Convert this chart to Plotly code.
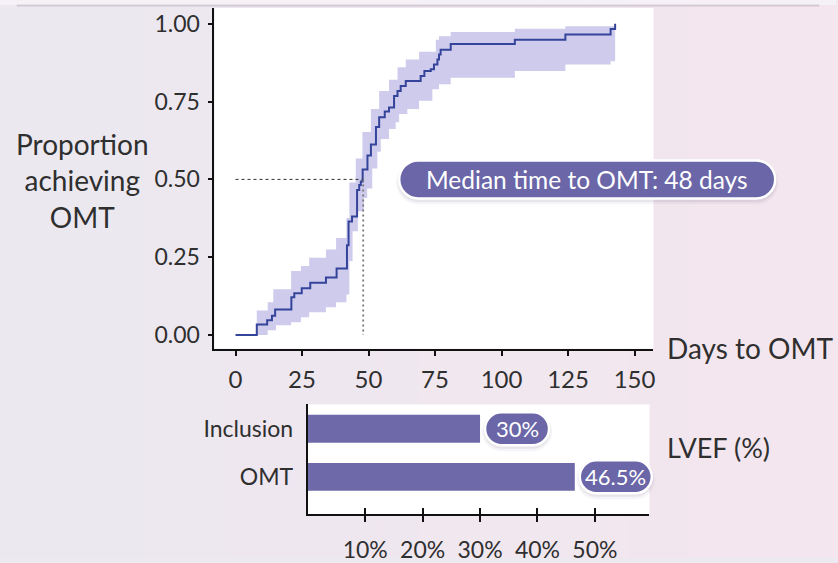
import plotly.graph_objects as go

# ---------------- data ----------------
km_days = [0, 8.0, 11.9, 13.7, 14.9, 21.0, 22.1, 24.9, 28.1, 34.0, 38.0, 41.9, 42.5, 43.8,
           45.7, 46.5, 47.1, 47.8, 49.6, 50.9, 52.8, 54.0, 56.1, 57.7, 59.6, 60.9, 62.1,
           64.0, 69.6, 71.0, 73.4, 74.6, 75.9, 76.5, 77.1, 80.9, 105.0, 124.0, 141.0, 142.7]
km_prop = [0, 0.034, 0.047, 0.062, 0.082, 0.121, 0.134, 0.150, 0.168, 0.185, 0.214, 0.288,
           0.365, 0.381, 0.466, 0.482, 0.493, 0.532, 0.577, 0.612, 0.668, 0.700, 0.718,
           0.731, 0.768, 0.784, 0.800, 0.816, 0.832, 0.848, 0.854, 0.869, 0.885, 0.901,
           0.917, 0.935, 0.949, 0.966, 0.983, 1.0]

band_days = [8, 12.1, 14.2, 15.2, 20.9, 24.6, 27.7, 34.0, 37.8, 41.7,
             42.8, 44.0, 45.2, 46.0, 47.7, 48.3, 49.5, 50.9, 51.4, 53.3,
             54.0, 54.6, 57.7, 60.2, 60.9, 61.5, 64.0, 64.6, 69.0, 74.0,
             75.3, 76.5, 80.9, 105.0, 124.0, 141.0, 142.7]
band_lower = [0.0, 0.015, 0.015, 0.031, 0.041, 0.057, 0.073, 0.089, 0.105, 0.13,
              0.238, 0.333, 0.333, 0.398, 0.398, 0.44, 0.471, 0.471, 0.535, 0.589,
              0.589, 0.63, 0.662, 0.684, 0.684, 0.71, 0.71, 0.726, 0.753, 0.79,
              0.79, 0.806, 0.827, 0.848, 0.869, 0.88, 0.88]
band_upper = [0.079, 0.105, 0.147, 0.147, 0.206, 0.222, 0.248, 0.275, 0.312, 0.376,
              0.49, 0.49, 0.567, 0.567, 0.652, 0.652, 0.652, 0.726, 0.726, 0.726,
              0.784, 0.784, 0.82, 0.82, 0.86, 0.86, 0.885, 0.885, 0.91, 0.91,
              0.949, 0.96, 0.974, 0.984, 0.992, 0.992, 0.992]

median_days = 48
median_prop = 0.5
median_text = "Median time to OMT: 48 days"

km_xticks = [0, 25, 50, 75, 100, 125, 150]
km_yticks = [0.0, 0.25, 0.50, 0.75, 1.00]
km_ytick_labels = ["0.00", "0.25", "0.50", "0.75", "1.00"]

lvef_cats = ["Inclusion", "OMT"]
lvef_vals = [30, 46.5]
lvef_labels = ["30%", "46.5%"]
lvef_ticks = [10, 20, 30, 40, 50]
lvef_tick_labels = ["10%", "20%", "30%", "40%", "50%"]

# ---------------- style ----------------
W, H = 838, 563
FONT = "Lato"
TXT = "#2f2f2f"
BAR = "#6e6aa9"
PILL = "#6a66a7"
LINE = "#34449a"
BANDC = "rgba(165,160,222,0.55)"


def px_x(p):
    return p / W


def px_y(p):
    return 1 - p / H


km_dom_x = [px_x(215), px_x(655)]
km_dom_y = [px_y(352), px_y(8)]
bar_dom_x = [px_x(308.5), px_x(651)]
bar_dom_y = [px_y(519), px_y(408)]
km_rng_x = [-7.9, 157.1]
km_rng_y = [-0.0446, 1.051]
bar_rng_x = [0, 59.5]
bar_rng_y = [1.78, -0.505]


def to_paper(v, dom, rng):
    return dom[0] + (v - rng[0]) / (rng[1] - rng[0]) * (dom[1] - dom[0])


fig = go.Figure()

# confidence band
fig.add_trace(go.Scatter(x=band_days, y=band_lower, mode="lines", line=dict(width=0, shape="hv"),
                         hoverinfo="skip", showlegend=False, xaxis="x", yaxis="y"))
fig.add_trace(go.Scatter(x=band_days, y=band_upper, mode="lines", line=dict(width=0, shape="hv"),
                         fill="tonexty", fillcolor=BANDC, hoverinfo="skip", showlegend=False,
                         xaxis="x", yaxis="y"))
# KM curve
fig.add_trace(go.Scatter(x=km_days, y=km_prop, mode="lines", line=dict(color=LINE, width=2, shape="hv"),
                         showlegend=False, xaxis="x", yaxis="y"))

# bars
fig.add_trace(go.Bar(y=lvef_cats, x=lvef_vals, orientation="h", marker=dict(color=BAR, line=dict(width=0)),
                     width=0.58, showlegend=False, xaxis="x2", yaxis="y2"))

shapes = []
# background gradient strips
n = 40
c0 = (235, 232, 240)
c1 = (244, 230, 238)
for i in range(n):
    t = i / (n - 1)
    col = tuple(round(c0[k] + (c1[k] - c0[k]) * t) for k in range(3))
    shapes.append(dict(type="rect", xref="paper", yref="paper", x0=i / n, x1=(i + 1) / n + 0.002,
                       y0=0, y1=1, fillcolor="rgb(%d,%d,%d)" % col, line=dict(width=0), layer="below"))
# top card edge
shapes.append(dict(type="rect", xref="paper", yref="paper", x0=0, x1=1, y0=px_y(5), y1=1,
                   fillcolor="#f6f1f6", line=dict(width=0), layer="below"))
shapes.append(dict(type="line", xref="paper", yref="paper", x0=0.02, x1=0.98, y0=px_y(5.5), y1=px_y(5.5),
                   line=dict(color="rgba(120,110,130,0.25)", width=2), layer="below"))
# white plot panels
shapes.append(dict(type="rect", xref="paper", yref="paper", x0=km_dom_x[0], x1=km_dom_x[1],
                   y0=km_dom_y[0], y1=km_dom_y[1], fillcolor="white", line=dict(width=0), layer="below"))
shapes.append(dict(type="rect", xref="paper", yref="paper", x0=bar_dom_x[0], x1=bar_dom_x[1],
                   y0=bar_dom_y[0], y1=bar_dom_y[1], fillcolor="white", line=dict(width=0), layer="below"))

# median guide lines
shapes.append(dict(type="line", xref="x", yref="y", x0=0, x1=median_days, y0=median_prop, y1=median_prop,
                   line=dict(color="#333", width=1, dash="3px,3px")))
shapes.append(dict(type="line", xref="x", yref="y", x0=median_days, x1=median_days, y0=median_prop, y1=0,
                   line=dict(color="#777", width=1.8, dash="2px,3px")))


def pill_path(x0, x1, h):
    r = h / 2.0
    k = 0.5523 * r
    y0, y1 = -r, r
    return ("M {a},{y1} L {b},{y1} C {c},{y1} {x1},{m1} {x1},0 C {x1},{m2} {c},{y0} {b},{y0} "
            "L {a},{y0} C {d},{y0} {x0},{m2} {x0},0 C {x0},{m1} {d},{y1} {a},{y1} Z").format(
        a=x0 + r, b=x1 - r, c=x1 - r + k, d=x0 + r - k, x0=x0, x1=x1, y0=y0, y1=y1,
        m1=k, m2=-k)


def add_pill(xa, ya, x0, x1, h):
    # soft shadow
    for grow, dy, a in [(6, -3, 0.06), (3, -2, 0.08)]:
        shapes.append(dict(type="path", xref="paper", yref="paper", xsizemode="pixel", ysizemode="pixel",
                           xanchor=xa, yanchor=ya + dy / H,
                           path=pill_path(x0 - grow / 2, x1 + grow / 2, h + grow),
                           fillcolor="rgba(80,70,100,%.2f)" % a, line=dict(width=0)))
    shapes.append(dict(type="path", xref="paper", yref="paper", xsizemode="pixel", ysizemode="pixel",
                       xanchor=xa, yanchor=ya, path=pill_path(x0, x1, h),
                       fillcolor=PILL, line=dict(color="white", width=2.5)))


annotations = []

# median pill
mx = to_paper(median_days, km_dom_x, km_rng_x)
my = to_paper(median_prop, km_dom_y, km_rng_y)
add_pill(mx, my, 36, 412, 38)
annotations.append(dict(xref="x", yref="y", x=median_days, y=median_prop, xanchor="center", yanchor="middle",
                        xshift=224, yshift=0, text=median_text, showarrow=False,
                        font=dict(family=FONT, size=24.5, color="white")))

# bar value pills
pill_w = [64, 72]
for i, (cat, v, lab, w) in enumerate(zip(lvef_cats, lvef_vals, lvef_labels, pill_w)):
    bx = to_paper(v, bar_dom_x, bar_rng_x)
    by = to_paper(i, bar_dom_y, bar_rng_y)
    add_pill(bx, by, 5, 5 + w, 33)
    annotations.append(dict(xref="x2", yref="y2", x=v, y=cat, xanchor="center", yanchor="middle",
                            xshift=5 + w / 2, text=lab, showarrow=False,
                            font=dict(family=FONT, size=22, color="white")))

# axis titles
annotations.append(dict(xref="paper", yref="paper", x=px_x(83), y=px_y(182), xanchor="center", yanchor="middle",
                        text="Proportion<br>achieving<br>OMT", showarrow=False, align="center",
                        font=dict(family=FONT, size=28, color=TXT)))
annotations.append(dict(xref="paper", yref="paper", x=px_x(667), y=px_y(351), xanchor="left", yanchor="middle",
                        text="Days to OMT", showarrow=False, font=dict(family=FONT, size=28, color=TXT)))
annotations.append(dict(xref="paper", yref="paper", x=px_x(667), y=px_y(452), xanchor="left", yanchor="middle",
                        text="LVEF (%)", showarrow=False, font=dict(family=FONT, size=27, color=TXT)))

axis_common = dict(showgrid=False, zeroline=False, showline=True, linecolor="#111", linewidth=2,
                   tickcolor="#111")

fig.update_layout(
    width=W, height=H, margin=dict(l=0, r=0, t=0, b=0),
    paper_bgcolor="#ede9f0", plot_bgcolor="rgba(0,0,0,0)",
    showlegend=False,
    xaxis=dict(domain=km_dom_x, range=km_rng_x, tickvals=km_xticks, ticks="outside", ticklen=5,
               tickwidth=1.5, anchor="y", ticklabelstandoff=3,
               tickfont=dict(family=FONT, size=24, color=TXT), **axis_common),
    yaxis=dict(domain=km_dom_y, range=km_rng_y, tickvals=km_yticks, ticktext=km_ytick_labels,
               ticks="outside", ticklen=4, tickwidth=1.5, anchor="x", ticklabelstandoff=4,
               tickfont=dict(family=FONT, size=23, color=TXT), **axis_common),
    xaxis2=dict(domain=bar_dom_x, range=bar_rng_x, tickvals=lvef_ticks, ticktext=lvef_tick_labels,
                ticks="outside", ticklen=6, tickwidth=2, anchor="y2", ticklabelstandoff=8,
                tickfont=dict(family=FONT, size=23, color=TXT), **axis_common),
    xaxis3=dict(domain=bar_dom_x, range=bar_rng_x, tickvals=lvef_ticks, ticks="inside", ticklen=6,
                tickwidth=2, tickcolor="#111", showticklabels=False, showgrid=False, zeroline=False,
                showline=False, anchor="y2", overlaying="x2"),
    yaxis2=dict(domain=bar_dom_y, type="category", categoryorder="array", categoryarray=lvef_cats,
                range=bar_rng_y, ticks="", anchor="x2", ticklabelstandoff=8,
                tickfont=dict(family=FONT, size=23, color=TXT), **axis_common),
    shapes=shapes,
    annotations=annotations,
)

# invisible trace so the overlay tick axis renders
fig.add_trace(go.Scatter(x=[lvef_ticks[0]], y=[lvef_cats[0]], mode="markers", marker=dict(opacity=0),
                         hoverinfo="skip", showlegend=False, xaxis="x3", yaxis="y2"))

fig.write_html("out.html")
